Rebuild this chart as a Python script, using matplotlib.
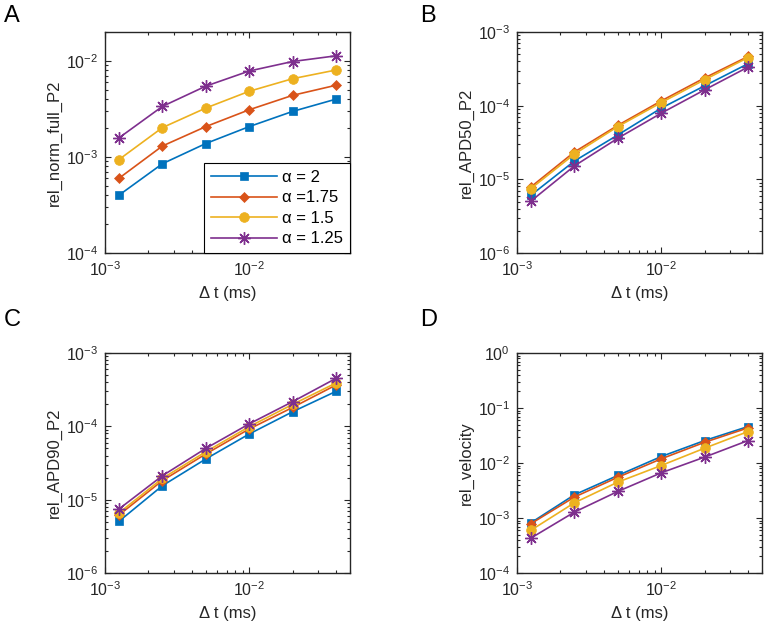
import numpy as np
import matplotlib
matplotlib.use("Agg")
import matplotlib.pyplot as plt
from matplotlib.ticker import LogLocator, NullFormatter

plt.rcParams['font.family'] = ['Liberation Sans', 'DejaVu Sans']
plt.rcParams['mathtext.fontset'] = 'custom'
plt.rcParams['mathtext.rm'] = 'Liberation Sans'
plt.rcParams['mathtext.it'] = 'Liberation Sans:italic'
plt.rcParams['mathtext.bf'] = 'Liberation Sans:bold'

dt = [1.25e-3, 2.5e-3, 5e-3, 1e-2, 2e-2, 4e-2]
labels = ['α = 2', 'α =1.75', 'α = 1.5', 'α = 1.25']

normfull = [
    [4.0e-4, 8.5e-4, 1.38e-3, 2.07e-3, 2.98e-3, 4.0e-3],
    [6.0e-4, 1.30e-3, 2.07e-3, 3.1e-3, 4.38e-3, 5.58e-3],
    [9.4e-4, 2.02e-3, 3.23e-3, 4.83e-3, 6.53e-3, 8.04e-3],
    [1.58e-3, 3.36e-3, 5.46e-3, 7.85e-3, 9.86e-3, 1.13e-2],
]
apd50 = [
    [6.1e-6, 1.77e-5, 4.0e-5, 9.25e-5, 1.86e-4, 3.71e-4],
    [7.9e-6, 2.35e-5, 5.4e-5, 1.16e-4, 2.38e-4, 4.65e-4],
    [7.5e-6, 2.2e-5, 5.2e-5, 1.1e-4, 2.25e-4, 4.5e-4],
    [5.07e-6, 1.52e-5, 3.61e-5, 7.9e-5, 1.64e-4, 3.34e-4],
]
apd90 = [
    [5.07e-6, 1.55e-5, 3.59e-5, 7.86e-5, 1.58e-4, 3.0e-4],
    [6.18e-6, 1.82e-5, 4.2e-5, 9.2e-5, 1.81e-4, 3.66e-4],
    [6.6e-6, 1.95e-5, 4.5e-5, 9.9e-5, 1.99e-4, 3.9e-4],
    [7.46e-6, 2.12e-5, 5.0e-5, 1.08e-4, 2.17e-4, 4.51e-4],
]
velocity = [
    [8.2e-4, 2.64e-3, 5.93e-3, 1.31e-2, 2.56e-2, 4.6e-2],
    [7.9e-4, 2.4e-3, 5.5e-3, 1.19e-2, 2.38e-2, 4.35e-2],
    [6.0e-4, 1.89e-3, 4.49e-3, 9.0e-3, 1.86e-2, 3.73e-2],
    [4.32e-4, 1.28e-3, 3.04e-3, 6.63e-3, 1.28e-2, 2.56e-2],
]

colors = ['#0072BD', '#D95319', '#EDB120', '#7E2F8E']
markers = ['s', 'D', 'o', (8, 2, 0)]
msizes = [6, 5.5, 7, 9]

W, H = 767, 625
fig = plt.figure(figsize=(W / 100, H / 100), dpi=100)

def rect(l, r, t, b):
    return [l / W, 1 - b / H, (r - l) / W, (b - t) / H]

panels = [
    ('A', rect(105, 350, 32, 253), normfull, 'rel_norm_full_P2', (1e-4, 2e-2), (4, 16)),
    ('B', rect(517, 762, 32, 253), apd50, 'rel_APD50_P2', (1e-6, 1e-3), (420, 16)),
    ('C', rect(105, 350, 353, 573), apd90, 'rel_APD90_P2', (1e-6, 1e-3), (4, 320)),
    ('D', rect(517, 762, 353, 573), velocity, 'rel_velocity', (1e-4, 1e0), (420, 320)),
]

edge = '#262626'
for name, pos, data, ylab, ylim, lpos in panels:
    ax = fig.add_axes(pos)
    for i, series in enumerate(data):
        ax.plot(dt, series, color=colors[i], marker=markers[i], ms=msizes[i],
                lw=1.2, mew=1.0 if i == 3 else 0.5, label=labels[i])
    ax.set_xscale('log')
    ax.set_yscale('log')
    ax.set_xlim(1e-3, 5e-2)
    ax.set_ylim(*ylim)
    ax.xaxis.set_major_locator(LogLocator(base=10, numticks=10))
    ax.yaxis.set_major_locator(LogLocator(base=10, numticks=10))
    ax.xaxis.set_minor_locator(LogLocator(base=10, subs=np.arange(2, 10), numticks=20))
    ax.yaxis.set_minor_locator(LogLocator(base=10, subs=np.arange(2, 10), numticks=20))
    ax.xaxis.set_minor_formatter(NullFormatter())
    ax.yaxis.set_minor_formatter(NullFormatter())
    ax.tick_params(which='both', direction='in', top=True, right=True,
                   color=edge, labelcolor=edge, labelsize=11.5, width=0.8)
    ax.tick_params(which='major', length=4, pad=5)
    ax.tick_params(which='minor', length=2)
    for s in ax.spines.values():
        s.set_color(edge)
        s.set_linewidth(1.0)
    ax.set_xlabel('Δ t (ms)', fontsize=12, color=edge, labelpad=5)
    ax.set_ylabel(ylab, fontsize=12, color=edge, labelpad=3)
    fig.text(lpos[0] / W, 1 - lpos[1] / H, name, fontsize=17, ha='left', va='center',
             color='black')
    if name == 'A':
        leg = ax.legend(loc='lower right', fontsize=12, frameon=True, fancybox=False,
                        edgecolor='black', framealpha=1, handlelength=4.0,
                        borderaxespad=0, borderpad=0.4, labelspacing=0.33,
                        handletextpad=0.3)
        leg.get_frame().set_linewidth(0.8)

fig.savefig('out.png', dpi=100)
